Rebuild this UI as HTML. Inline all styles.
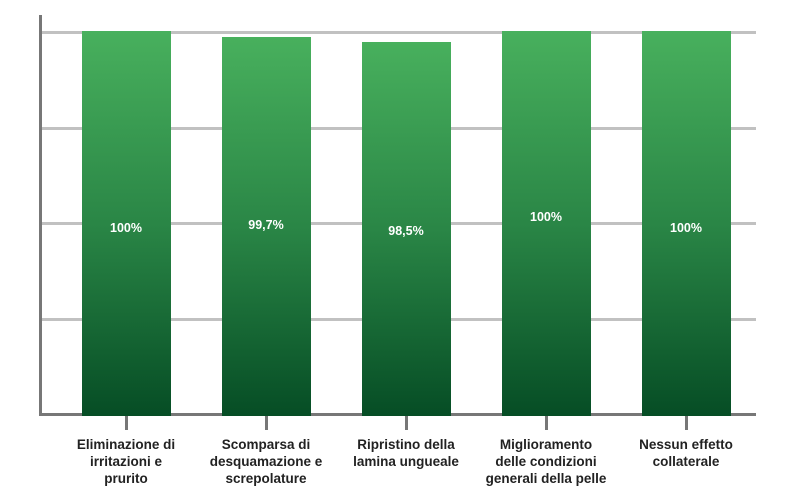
<!DOCTYPE html>
<html><head><style>
body{margin:0;background:#fff;width:800px;height:500px;overflow:hidden}
svg{display:block}
text{font-family:"Liberation Sans",sans-serif;font-weight:bold}
</style></head><body>
<svg width="800" height="500" viewBox="0 0 800 500">
<defs><linearGradient id="g" x1="0" y1="0" x2="0" y2="1">
<stop offset="0" stop-color="#48b05d"/><stop offset="0.5" stop-color="#2a8646"/><stop offset="1" stop-color="#064d25"/></linearGradient></defs>
<g fill="#c1c1c1">
<rect x="42" y="31" width="714" height="3"/>
<rect x="42" y="127" width="714" height="3"/>
<rect x="42" y="222" width="714" height="3"/>
<rect x="42" y="318" width="714" height="3"/>
</g>
<g fill="#777">
<rect x="39" y="15" width="3" height="401"/>
<rect x="39" y="413" width="717" height="3"/>
<rect x="125" y="415" width="3" height="15"/>
<rect x="265" y="415" width="3" height="15"/>
<rect x="405" y="415" width="3" height="15"/>
<rect x="545" y="415" width="3" height="15"/>
<rect x="685" y="415" width="3" height="15"/>
</g>
<g fill="url(#g)">
<rect x="82" y="31" width="89" height="385" />
<rect x="222" y="37" width="89" height="379"/>
<rect x="362" y="42" width="89" height="374"/>
<rect x="502" y="31" width="89" height="385"/>
<rect x="642" y="31" width="89" height="385"/>
</g>
<g fill="#fff" font-size="12.5" text-anchor="middle">
<text x="126" y="232">100%</text>
<text x="266" y="229">99,7%</text>
<text x="406" y="235">98,5%</text>
<text x="546" y="221">100%</text>
<text x="686" y="232">100%</text>
</g>
<g fill="#222" font-size="13.5" text-anchor="middle">
<text x="126" y="449">Eliminazione di</text><text x="126" y="466">irritazioni e</text><text x="126" y="483">prurito</text>
<text x="266" y="449">Scomparsa di</text><text x="266" y="466">desquamazione e</text><text x="266" y="483">screpolature</text>
<text x="406" y="449">Ripristino della</text><text x="406" y="466">lamina ungueale</text>
<text x="546" y="449">Miglioramento</text><text x="546" y="466">delle condizioni</text><text x="546" y="483">generali della pelle</text>
<text x="686" y="449">Nessun effetto</text><text x="686" y="466">collaterale</text>
</g>
</svg>
</body></html>
